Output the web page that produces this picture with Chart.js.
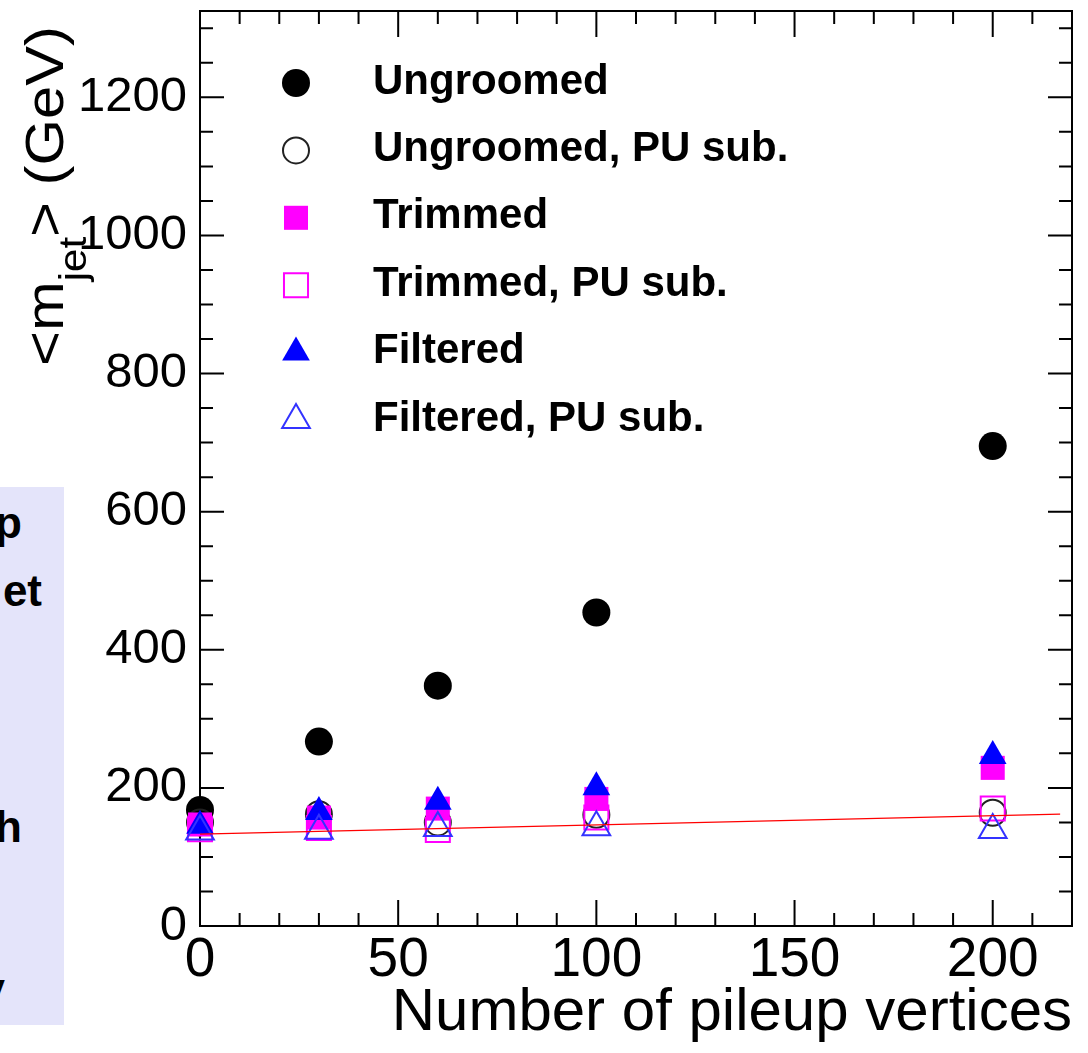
<!DOCTYPE html>
<html>
<head>
<meta charset="utf-8">
<title>Mean jet mass vs pileup</title>
<script src="https://cdn.jsdelivr.net/npm/chart.js@4.4.1/dist/chart.umd.min.js"></script>
<style>
  html, body { margin: 0; padding: 0; background: #fff; }
  #wrap { position: relative; width: 1088px; height: 1053px; overflow: hidden; }
  #chart { position: absolute; left: 0; top: 0; }
  /* slide text box that sits behind the plot, cut off by the page edge */
  #sidebox {
    position: absolute; left: 0; top: 487px; width: 64px; height: 538px;
    background: #e4e4fa; overflow: hidden;
    font-family: "Liberation Sans", Arial, sans-serif; font-weight: bold;
    font-size: 44px; line-height: 44px; color: #000;
  }
  #sidebox span { position: absolute; white-space: nowrap; }
</style>
</head>
<body>
<div id="wrap">
  <canvas id="chart" width="1088" height="1053"></canvas>
  <div id="sidebox">
    <span style="right:42px; top:14px;">p</span>
    <span style="right:22px; top:82px;">et</span>
    <span style="right:42px; top:318px;">h</span>
    <span style="right:59px; top:480px;">y</span>
  </div>
</div>

<script>
// data
const pileup = [0, 30, 60, 100, 200];
const ungroomed = [168, 267, 348, 454, 695];
const ungroomedPU = [150, 162, 150, 161, 164];
const trimmed = [147, 157, 170, 184, 229];
const trimmedPU = [140, 142, 139, 157, 170];
const filtered = [145, 165, 180, 201, 246];
const filteredPU = [137, 138, 142, 143, 139];

// thin red reference line
const fitX = [0, 217];
const fitY = [133, 162];

const xTicks = [0, 50, 100, 150, 200];
const yTicks = [0, 200, 400, 600, 800, 1000, 1200];
const seriesNames = ["Ungroomed", "Ungroomed, PU sub.", "Trimmed", "Trimmed, PU sub.", "Filtered", "Filtered, PU sub."];

const FONT = "'Liberation Sans', Arial, Helvetica, sans-serif";

function pts(ys) {
  return pileup.map((x, i) => ({ x: x, y: ys[i] }));
}

function markerSet(label, ys, style, r, fill, stroke, bw, order) {
  return {
    label: label,
    data: pts(ys),
    pointStyle: style,
    pointRadius: r,
    pointHoverRadius: r,
    backgroundColor: fill,
    borderColor: stroke,
    pointBorderWidth: bw,
    borderWidth: bw,
    showLine: false,
    clip: false,
    order: order,
  };
}

const datasets = [
  markerSet(seriesNames[0], ungroomed, "circle", 14, "#000000", "#000000", 0, 6),
  markerSet(seriesNames[1], ungroomedPU, "circle", 13, "rgba(0,0,0,0)", "#222222", 2, 5),
  markerSet(seriesNames[2], trimmed, "rect", 17, "#ff00ff", "#ff00ff", 0, 4),
  markerSet(seriesNames[3], trimmedPU, "rect", 17, "rgba(0,0,0,0)", "#ff00ff", 2, 3),
  markerSet(seriesNames[4], filtered, "triangle", 16, "#0000ff", "#0000ff", 0, 2),
  markerSet(seriesNames[5], filteredPU, "triangle", 16, "rgba(0,0,0,0)", "#3333ff", 2, 1),
  {
    label: "fit",
    data: fitX.map((x, i) => ({ x: x, y: fitY[i] })),
    showLine: true,
    borderColor: "#ff0000",
    borderWidth: 1.2,
    pointRadius: 0,
    order: 0,
  },
];

// ROOT-like frame, inward ticks, legend and y title
const rootFrame = {
  id: "rootFrame",
  beforeDatasetsDraw(chart) {
    const { ctx, chartArea: a, scales } = chart;
    const x = scales.x, y = scales.y;
    ctx.save();
    ctx.strokeStyle = "#000";
    ctx.lineWidth = 2;
    ctx.strokeRect(a.left, a.top, a.right - a.left, a.bottom - a.top);
    ctx.beginPath();
    for (let v = 0; v <= x.max; v += 10) {
      const px = x.getPixelForValue(v);
      const len = v % 50 === 0 ? 26 : 13;
      ctx.moveTo(px, a.bottom); ctx.lineTo(px, a.bottom - len);
      ctx.moveTo(px, a.top); ctx.lineTo(px, a.top + len);
    }
    for (let v = 0; v <= y.max; v += 50) {
      const py = y.getPixelForValue(v);
      const len = v % 200 === 0 ? 24 : 13;
      ctx.moveTo(a.left, py); ctx.lineTo(a.left + len, py);
      ctx.moveTo(a.right, py); ctx.lineTo(a.right - len, py);
    }
    ctx.stroke();
    ctx.restore();
  },
  afterDraw(chart) {
    const ctx = chart.ctx;
    ctx.save();

    // legend
    const legX = 296, textX = 373, legTop = 83, legStep = 67.4;
    chart.data.datasets.slice(0, 6).forEach((ds, i) => {
      const yy = legTop + i * legStep;
      ctx.fillStyle = ds.backgroundColor;
      ctx.strokeStyle = ds.borderColor;
      ctx.lineWidth = ds.pointBorderWidth;
      Chart.helpers.drawPoint(ctx, {
        pointStyle: ds.pointStyle, radius: ds.pointRadius,
        borderWidth: ds.pointBorderWidth, rotation: 0,
      }, legX, yy);
      ctx.fillStyle = "#000";
      ctx.font = "bold 42px " + FONT;
      ctx.textAlign = "left";
      ctx.textBaseline = "middle";
      ctx.fillText(ds.label, textX, yy - 1);
    });

    // y axis title: <m_jet> (GeV), rotated, right aligned to top of axis
    const mainFont = "54px " + FONT, subFont = "38px " + FONT;
    ctx.font = mainFont;
    const w1 = ctx.measureText("<m").width;
    const w3 = ctx.measureText("> (GeV)").width;
    ctx.font = subFont;
    const w2 = ctx.measureText("jet").width;
    const total = w1 + w2 + w3;
    ctx.translate(63, 26);
    ctx.rotate(-Math.PI / 2);
    ctx.scale(340 / total, 1);
    ctx.fillStyle = "#000";
    ctx.textAlign = "left";
    ctx.textBaseline = "alphabetic";
    let cx = -total;
    ctx.font = mainFont; ctx.fillText("<m", cx, 0); cx += w1;
    ctx.font = subFont; ctx.fillText("jet", cx, 23); cx += w2;
    ctx.font = mainFont; ctx.fillText("> (GeV)", cx, 0);

    ctx.restore();
  },
};

const ctx = document.getElementById("chart").getContext("2d");
new Chart(ctx, {
  type: "scatter",
  data: { datasets: datasets },
  options: {
    responsive: false,
    animation: false,
    layout: { autoPadding: false, padding: { top: 11, right: 16, left: 0, bottom: 0 } },
    plugins: {
      legend: { display: false },
      tooltip: { enabled: false },
    },
    scales: {
      x: {
        type: "linear",
        min: 0,
        max: 220,
        grid: { display: false, drawTicks: false },
        border: { display: false },
        afterBuildTicks: (s) => { s.ticks = xTicks.map((v) => ({ value: v })); },
        afterFit: (s) => {
          s.height = 127;
          s.paddingLeft = 0;
          s.paddingRight = 0;
        },
        ticks: {
          color: "#000",
          font: { family: FONT, size: 55 },
          padding: 2,
          maxRotation: 0,
          autoSkip: false,
          callback: (v) => String(v),
        },
        title: {
          display: true,
          text: "Number of pileup vertices",
          align: "end",
          color: "#000",
          font: { family: FONT, size: 60 },
          padding: { top: 0, bottom: 4 },
        },
      },
      y: {
        type: "linear",
        min: 0,
        max: 1325,
        grid: { display: false, drawTicks: false },
        border: { display: false },
        afterBuildTicks: (s) => { s.ticks = yTicks.map((v) => ({ value: v })); },
        afterFit: (s) => {
          s.width = 200;
          s.paddingTop = 0;
          s.paddingBottom = 0;
        },
        ticks: {
          color: "#000",
          font: { family: FONT, size: 49 },
          padding: 13,
          autoSkip: false,
          callback: (v) => String(v),
        },
      },
    },
  },
  plugins: [rootFrame],
});
</script>
</body>
</html>
